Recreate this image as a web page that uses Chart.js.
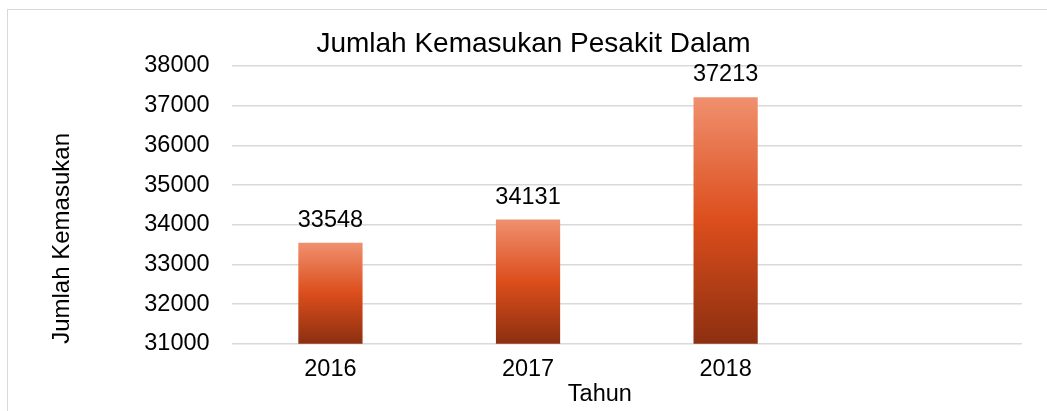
<!DOCTYPE html>
<html>
<head>
<meta charset="utf-8">
<script src="https://cdn.jsdelivr.net/npm/chart.js@4"></script>
<style>
  body { margin: 0; background: #fff; overflow: hidden; }
  #wrap { position: relative; width: 1047px; height: 411px; }
  #frame { position: absolute; left: 7px; top: 9px; width: 1100px; height: 500px; border: 1.5px solid #d9d9d9; }
  #myChart { position: absolute; left: 0; top: 0; }
</style>
</head>
<body>
<div id="wrap">
  <div id="frame"></div>
  <canvas id="myChart" width="1047" height="411"></canvas>
</div>
<script>
const years = ['2016', '2017', '2018', ''];
const admissions = [33548, 34131, 37213, null];
const chartTitle = 'Jumlah Kemasukan Pesakit Dalam';
const yTitle = 'Jumlah Kemasukan';
const xTitle = 'Tahun';
const yMin = 31000;
const yMax = 38000;
const yStep = 1000;

const fontFamily = '"Liberation Sans", Arial, sans-serif';

// value labels above each bar
const barLabels = {
  id: 'barLabels',
  afterDatasetsDraw(chart) {
    const ctx = chart.ctx;
    const meta = chart.getDatasetMeta(0);
    ctx.save();
    ctx.font = '23.5px ' + fontFamily;
    ctx.fillStyle = '#000';
    ctx.textAlign = 'center';
    ctx.textBaseline = 'alphabetic';
    meta.data.forEach((bar, i) => {
      const v = admissions[i];
      if (v == null) return;
      ctx.fillText(String(v), bar.x, bar.y - 16);
    });
    ctx.restore();
  }
};

// x axis title, sits a little left of centre like the original
const xAxisTitle = {
  id: 'xAxisTitle',
  afterDraw(chart) {
    const {ctx, chartArea} = chart;
    ctx.save();
    ctx.font = '23.5px ' + fontFamily;
    ctx.fillStyle = '#000';
    ctx.textAlign = 'center';
    ctx.textBaseline = 'middle';
    ctx.fillText(xTitle, (chartArea.left + chartArea.right) / 2 - 27, chartArea.bottom + 51);
    ctx.restore();
  }
};

function barGradient(context) {
  const chart = context.chart;
  const y = chart.scales.y;
  if (!chart.chartArea || !y || context.raw == null) return '#DC4E1C';
  const top = y.getPixelForValue(context.raw);
  const bottom = y.getPixelForValue(yMin);
  const g = chart.ctx.createLinearGradient(0, top, 0, bottom);
  g.addColorStop(0, '#F0906F');
  g.addColorStop(0.5, '#DC4E1C');
  g.addColorStop(1, '#8C2F10');
  return g;
}

const ctx = document.getElementById('myChart').getContext('2d');
const myChart = new Chart(ctx, {
  type: 'bar',
  data: {
    labels: years,
    datasets: [
      {
        label: yTitle,
        data: admissions,
        backgroundColor: barGradient,
        borderWidth: 0,
        categoryPercentage: 1,
        barPercentage: 0.325
      }
    ]
  },
  options: {
    responsive: false,
    animation: false,
    devicePixelRatio: 1,
    layout: { padding: { left: 45, right: 25, top: 0, bottom: 15 } },
    plugins: {
      legend: { display: false },
      tooltip: { enabled: false },
      title: {
        display: true,
        text: chartTitle,
        color: '#000',
        font: { family: fontFamily, size: 28, weight: 'normal' },
        padding: { top: 27.7, bottom: 4.7 }
      }
    },
    scales: {
      x: {
        grid: { display: false, drawTicks: false },
        border: { display: false },
        ticks: {
          color: '#000',
          padding: 12,
          font: { family: fontFamily, size: 23.5 }
        }
      },
      y: {
        min: yMin,
        max: yMax,
        grid: { color: '#d9d9d9', lineWidth: 1.5, drawTicks: false },
        border: { display: false },
        ticks: {
          stepSize: yStep,
          color: '#000',
          padding: 22,
          font: { family: fontFamily, size: 23.5 },
          callback: (value) => String(value)
        },
        title: {
          display: true,
          text: yTitle,
          align: 'start',
          color: '#000',
          font: { family: fontFamily, size: 24 },
          padding: { top: 2.6, bottom: 45.9 }
        }
      }
    }
  },
  plugins: [barLabels, xAxisTitle]
});
</script>
</body>
</html>
